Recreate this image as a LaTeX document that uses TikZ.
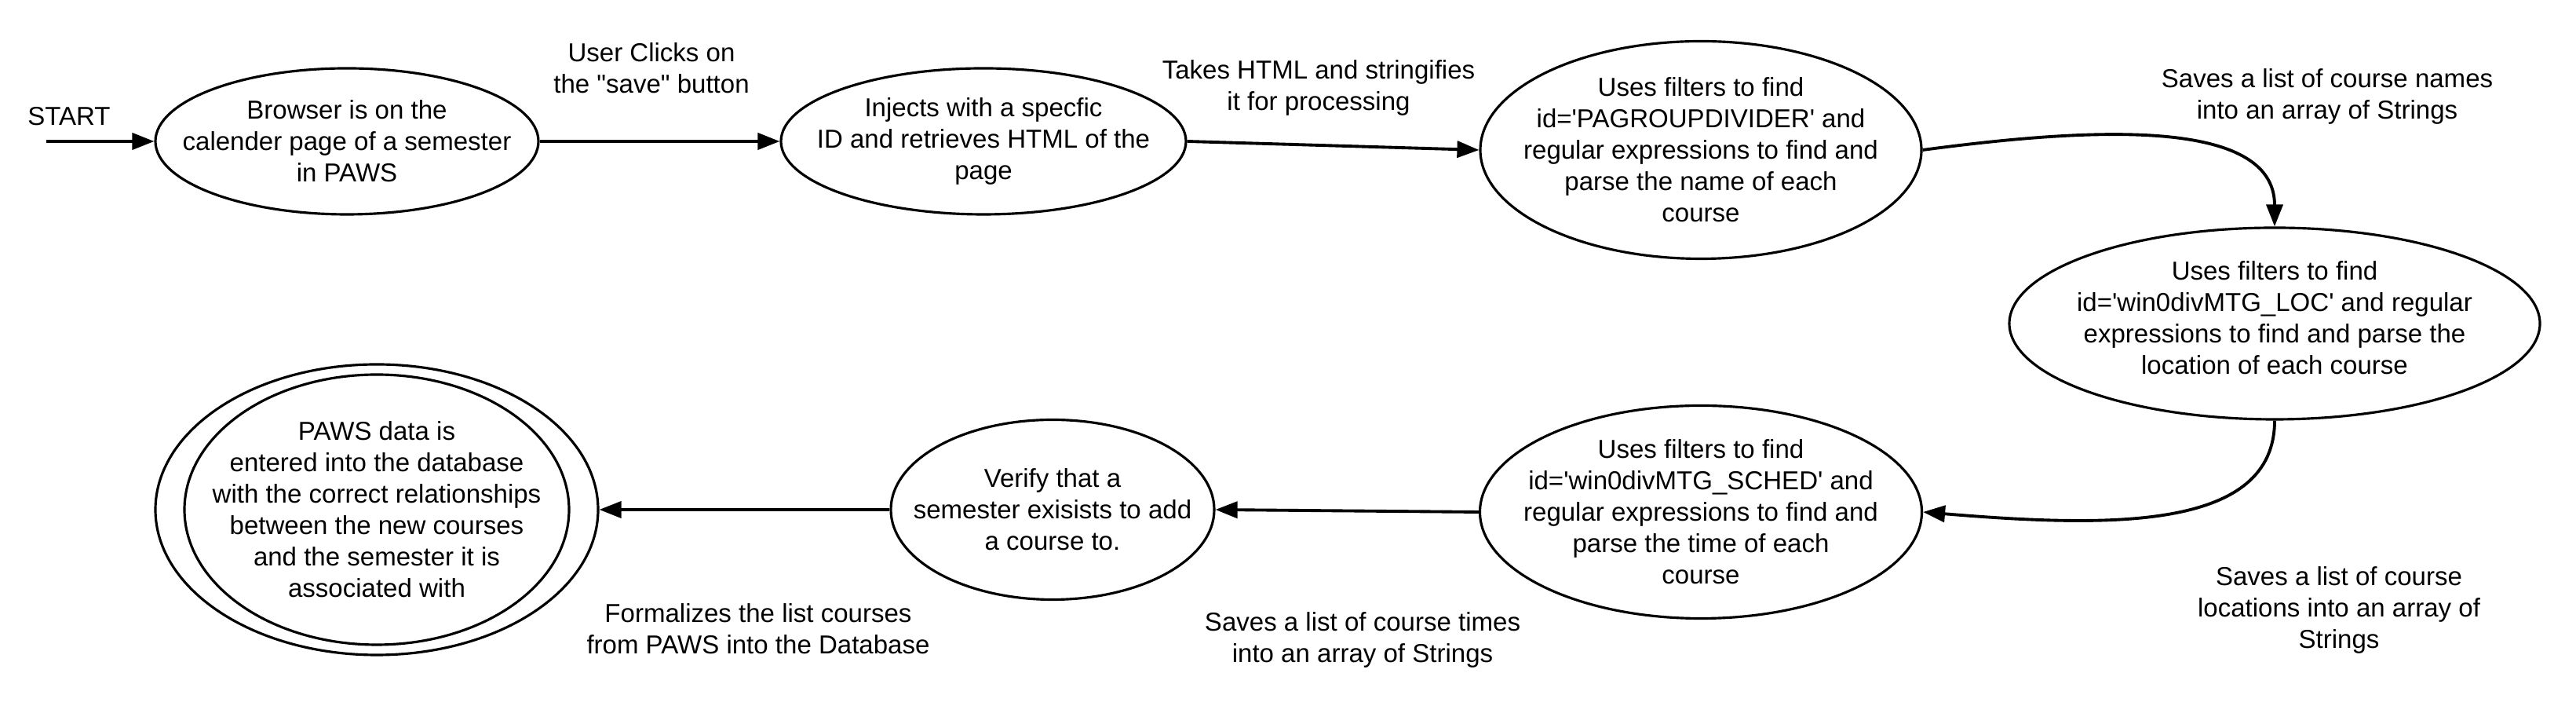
\documentclass[tikz,border=0pt]{standalone}
\usepackage{fontspec}
\setmainfont{Liberation Sans}
\newfontfamily\flowfont{Liberation Sans}
\usetikzlibrary{shapes.geometric,arrows.meta}

\tikzset{
  state/.style={ellipse, draw, line width=0.9pt, inner sep=0pt},
  txt/.style={align=center, inner sep=0pt, font=\flowfont\fontsize{9.4}{11.4}\selectfont},
  flow/.style={-{Triangle[length=2.8mm,width=2.1mm]}, line width=1.1pt},
}

\begin{document}
\begin{tikzpicture}
\useasboundingbox (0,0) rectangle (32.82,9.13); % Page frame

% States (ellipses)
\node[state, minimum width=4.88cm, minimum height=1.86cm] (browser) at (4.42,7.33) {}; % Browser state
\node[state, minimum width=5.16cm, minimum height=1.86cm] (inject) at (12.53,7.33) {}; % Inject state
\node[state, minimum width=5.62cm, minimum height=2.77cm] (group) at (21.67,7.22) {}; % Course names state
\node[state, minimum width=6.76cm, minimum height=2.44cm] (loc) at (28.98,5.01) {}; % Locations state
\node[state, minimum width=5.63cm, minimum height=2.71cm] (sched) at (21.67,2.61) {}; % Times state
\node[state, minimum width=4.12cm, minimum height=2.29cm] (verify) at (13.41,2.64) {}; % Verify state
\node[state, minimum width=5.64cm, minimum height=3.70cm] (store) at (4.80,2.64) {}; % Final state, outer ring
\node[state, minimum width=4.90cm, minimum height=3.44cm] (storein) at (store) {}; % Final state, inner ring

% State texts
\node[txt] (browsertxt) at (browser) {Browser is on the\\calender page of a semester\\in PAWS};
\node[txt] (injecttxt) at (inject) {Injects with a specfic\\ID and retrieves HTML of the\\page};
\node[txt] (grouptxt) at (group) {Uses filters to find\\id='PAGROUPDIVIDER' and\\regular expressions to find and\\parse the name of each\\course};
\node[txt] (loctxt) at (28.98,5.08) {Uses filters to find\\id='win0divMTG\_LOC' and regular\\expressions to find and parse the\\location of each course};
\node[txt] (schedtxt) at (sched) {Uses filters to find\\id='win0divMTG\_SCHED' and\\regular expressions to find and\\parse the time of each\\course};
\node[txt] (verifytxt) at (verify) {Verify that a\\semester exisists to add\\a course to.};
\node[txt] (storetxt) at (store) {PAWS data is\\entered into the database\\with the correct relationships\\between the new courses\\and the semester it is\\associated with};

% Start marker
\node[txt] (start) at (0.88,7.65) {START};
\coordinate (startpt) at (0.59,7.33);

% Transitions
\draw[flow] (startpt) -- (browser.west);
\draw[flow] (browser.east) -- (inject.west);
\draw[flow] (inject.east) -- (group.west);
\draw[flow] (group.east) .. controls +(2.1,0.28) and +(0,1.4) .. (loc.north);
\draw[flow] (loc.south) .. controls +(0,-1.4) and +(2.4,-0.2) .. (sched.east);
\draw[flow] (sched.west) -- (verify.east);
\draw[flow] (verify.west) -- (store.east);

% Transition labels
\node[txt] (clicklbl) at (8.30,8.26) {User Clicks on\\the "save" button};
\node[txt] (takeslbl) at (16.80,8.01) {Takes HTML and stringifies\\it for processing};
\node[txt] (nameslbl) at (29.65,7.90) {Saves a list of course names\\into an array of Strings};
\node[txt] (loclbl) at (29.80,1.36) {Saves a list of course\\locations into an array of\\Strings};
\node[txt] (timeslbl) at (17.36,0.98) {Saves a list of course times\\into an array of Strings};
\node[txt] (formallbl) at (9.66,1.12) {Formalizes the list courses\\from PAWS into the Database};

\end{tikzpicture}
\end{document}
